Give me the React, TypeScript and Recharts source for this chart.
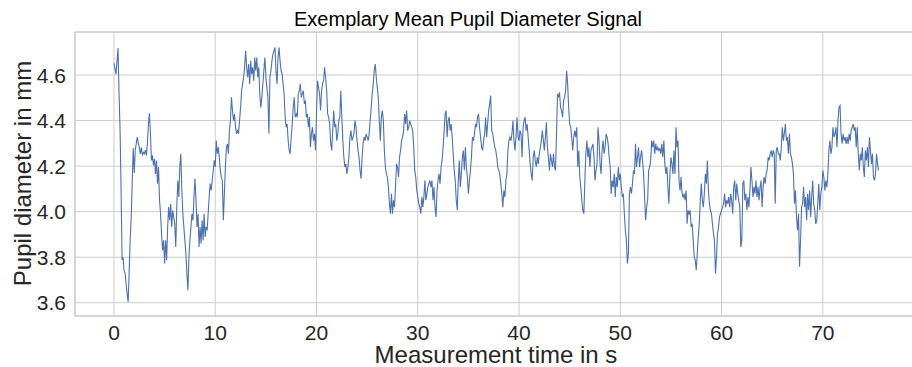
import React from 'react';
import { LineChart, Line, XAxis, YAxis, CartesianGrid, Label } from 'recharts';

// Sampling interval of the traced signal (seconds) and start time of each chunk
const SAMPLE_INTERVAL_S = 0.1;
const chunkStartTimes = [0, 13.1, 27.0, 40.4, 54.0, 66.7];

// Mean pupil diameter (mm), chunk by chunk
const diameter0 = [
  4.651, 4.63, 4.604, 4.66, 4.718, 4.52, 4.36, 4.1, 3.787, 3.8,
  3.74, 3.73, 3.68, 3.64, 3.604, 3.74, 3.88, 3.97, 4.13, 4.28,
  4.17, 4.27, 4.3, 4.327, 4.3, 4.283, 4.254, 4.283, 4.25, 4.26,
  4.254, 4.27, 4.247, 4.3, 4.385, 4.432, 4.34, 4.225, 4.247, 4.203,
  4.232, 4.166, 4.225, 4.123, 4.196, 4.05, 3.99, 3.9, 3.831, 3.874,
  3.772, 3.874, 3.787, 3.933, 4.02, 3.962, 4.035, 3.933, 4.006, 3.977,
  3.947, 3.845, 4.02, 4.137, 4.064, 4.196, 4.254, 4.093, 3.991, 3.933,
  3.874, 3.816, 3.728, 3.655, 3.801, 3.874, 3.933, 3.991, 3.962, 4.064,
  4.145, 4.05, 3.933, 3.991, 3.845, 3.933, 3.86, 3.962, 3.874, 3.991,
  3.889, 3.933, 3.918, 3.991, 4.064, 4.123, 4.093, 4.137, 4.181, 4.225,
  4.196, 4.312, 4.254, 4.283, 4.239, 4.181, 4.152, 4.137, 3.962, 4.079,
  4.196, 4.283, 4.298, 4.254, 4.356, 4.4, 4.502, 4.444, 4.4, 4.429,
  4.371, 4.342, 4.356, 4.342, 4.4, 4.458, 4.53, 4.561, 4.59, 4.634,
  4.707,
];

const diameter1 = [
  4.634, 4.59, 4.648, 4.561, 4.663, 4.604, 4.634, 4.575, 4.677, 4.619,
  4.677, 4.59, 4.634, 4.517, 4.458, 4.502, 4.561, 4.619, 4.677, 4.59,
  4.546, 4.502, 4.342, 4.59, 4.619, 4.663, 4.692, 4.707, 4.721, 4.619,
  4.561, 4.677, 4.721, 4.663, 4.619, 4.604, 4.561, 4.517, 4.415, 4.371,
  4.385, 4.312, 4.269, 4.254, 4.327, 4.385, 4.458, 4.502, 4.415, 4.429,
  4.415, 4.517, 4.531, 4.561, 4.502, 4.517, 4.531, 4.473, 4.488, 4.415,
  4.429, 4.371, 4.415, 4.283, 4.342, 4.371, 4.312, 4.342, 4.269, 4.429,
  4.575, 4.546, 4.517, 4.444, 4.531, 4.561, 4.575, 4.634, 4.59, 4.531,
  4.429, 4.415, 4.385, 4.298, 4.269, 4.356, 4.444, 4.371, 4.385, 4.312,
  4.342, 4.4, 4.415, 4.531, 4.415, 4.312, 4.239, 4.196, 4.21, 4.166,
  4.196, 4.239, 4.327, 4.356, 4.312, 4.327, 4.342, 4.4, 4.371, 4.312,
  4.269, 4.239, 4.181, 4.145, 4.239, 4.298, 4.327, 4.312, 4.342, 4.327,
  4.312, 4.342, 4.4, 4.458, 4.517, 4.561, 4.619, 4.648, 4.59, 4.546,
  4.502, 4.4, 4.312, 4.415, 4.444, 4.4, 4.269, 4.196, 4.166,
];

const diameter2 = [
  4.152, 4.108, 4.035, 3.991, 4.079, 3.991, 4.05, 4.02, 4.108, 4.21,
  4.196, 4.152, 4.239, 4.269, 4.312, 4.327, 4.356, 4.429, 4.385, 4.444,
  4.356, 4.371, 4.4, 4.385, 4.371, 4.356, 4.283, 4.181, 4.152, 4.093,
  4.064, 4.035, 4.02, 3.991, 4.064, 4.02, 4.064, 4.137, 4.05, 4.079,
  4.108, 4.123, 4.137, 4.108, 4.137, 4.05, 4.108, 4.02, 3.977, 4.093,
  4.137, 4.166, 4.123, 4.196, 4.225, 4.283, 4.356, 4.429, 4.444, 4.327,
  4.4, 4.415, 4.356, 4.385, 4.327, 4.254, 4.181, 4.137, 4.05, 4.006,
  4.137, 4.225, 4.108, 4.166, 4.239, 4.269, 4.181, 4.283, 4.196, 4.152,
  4.079, 4.137, 4.181, 4.239, 4.327, 4.312, 4.342, 4.385, 4.371, 4.415,
  4.429, 4.371, 4.327, 4.283, 4.269, 4.312, 4.342, 4.415, 4.327, 4.385,
  4.444, 4.473, 4.51, 4.356, 4.342, 4.312, 4.283, 4.269, 4.239, 4.196,
  4.181, 4.166, 4.123, 4.079, 4.02, 4.093, 4.064, 4.137, 4.166, 4.269,
  4.312, 4.327, 4.312, 4.342, 4.4, 4.312, 4.269, 4.327, 4.415, 4.327,
  4.312, 4.356, 4.342, 4.239,
];

const diameter3 = [
  4.371, 4.4, 4.415, 4.356, 4.385, 4.327, 4.269, 4.21, 4.166, 4.137,
  4.239, 4.269, 4.225, 4.196, 4.239, 4.21, 4.254, 4.283, 4.312, 4.356,
  4.312, 4.269, 4.327, 4.393, 4.283, 4.239, 4.181, 4.254, 4.225, 4.196,
  4.254, 4.196, 4.181, 4.342, 4.517, 4.502, 4.524, 4.458, 4.444, 4.415,
  4.488, 4.502, 4.531, 4.619, 4.561, 4.458, 4.385, 4.371, 4.327, 4.269,
  4.327, 4.356, 4.327, 4.371, 4.196, 4.269, 4.152, 4.108, 4.05, 4.006,
  3.991, 4.137, 4.254, 4.312, 4.239, 4.283, 4.196, 4.269, 4.283, 4.298,
  4.239, 4.137, 4.181, 4.21, 4.371, 4.312, 4.21, 4.166, 4.269, 4.312,
  4.254, 4.283, 4.342, 4.327, 4.298, 4.239, 4.196, 4.079, 4.137, 4.108,
  4.166, 4.064, 4.152, 4.108, 4.196, 4.137, 4.166, 4.108, 4.064, 4.079,
  3.991, 3.918, 3.874, 3.772, 3.816, 4.079, 4.108, 4.079, 4.123, 4.181,
  4.166, 4.298, 4.196, 4.239, 4.283, 4.196, 4.239, 4.269, 4.225, 4.166,
  4.064, 3.962, 4.02, 4.05, 4.181, 4.196, 4.225, 4.312, 4.283, 4.312,
  4.254, 4.298, 4.269, 4.283, 4.269, 4.276,
];

const diameter4 = [
  4.254, 4.298, 4.239, 4.312, 4.21, 4.166, 4.196, 4.108, 4.035, 4.166,
  4.239, 4.21, 4.166, 4.269, 4.166, 4.371, 4.283, 4.312, 4.137, 4.093,
  4.152, 4.079, 4.064, 4.079, 4.05, 4.093, 3.947, 4.006, 3.991, 4.006,
  3.933, 3.947, 3.874, 3.801, 3.787, 3.743, 3.816, 3.889, 3.947, 4.05,
  4.123, 4.05, 4.02, 4.079, 4.166, 4.123, 4.225, 4.093, 4.035, 4.006,
  3.991, 3.947, 3.904, 3.874, 3.728, 3.801, 3.904, 3.933, 3.977, 3.991,
  4.006, 4.02, 4.035, 4.079, 4.02, 4.05, 4.035, 4.064, 4.02, 4.079,
  4.05, 3.991, 4.108, 4.137, 4.05, 4.123, 4.079, 4.05, 4.02, 3.845,
  3.874, 4.123, 4.137, 4.05, 4.079, 4.006, 4.064, 4.02, 4.093, 4.196,
  4.137, 4.064, 4.108, 4.079, 4.137, 4.064, 4.108, 4.05, 4.108, 4.137,
  4.02, 4.108, 4.152, 4.123, 4.166, 4.181, 4.239, 4.225, 4.254, 4.269,
  4.239, 4.269, 4.254, 4.035, 4.269, 4.283, 4.254, 4.254, 4.225, 4.283,
  4.371, 4.312, 4.342, 4.385, 4.312, 4.327, 4.254,
];

const diameter5 = [
  4.342, 4.254, 4.239, 4.21, 4.166, 4.035, 4.093, 3.977, 3.918, 3.991,
  3.758, 3.874, 4.02, 4.035, 4.108, 4.02, 4.064, 3.962, 4.079, 4.006,
  4.093, 3.977, 4.064, 4.137, 4.035, 4.006, 3.947, 3.962, 4.035, 4.123,
  4.006, 4.079, 4.108, 4.181, 4.152, 4.093, 4.137, 4.108, 4.166, 4.269,
  4.312, 4.254, 4.283, 4.371, 4.327, 4.342, 4.371, 4.283, 4.4, 4.458,
  4.466, 4.342, 4.298, 4.342, 4.312, 4.327, 4.298, 4.327, 4.298, 4.342,
  4.312, 4.356, 4.371, 4.385, 4.356, 4.371, 4.283, 4.371, 4.254, 4.181,
  4.254, 4.225, 4.283, 4.196, 4.152, 4.269, 4.225, 4.283, 4.196, 4.327,
  4.269, 4.21, 4.254, 4.152, 4.137, 4.166, 4.254, 4.21, 4.181,
];

const xTicks = [0, 10, 20, 30, 40, 50, 60, 70];
const yTicks = [3.6, 3.8, 4.0, 4.2, 4.4, 4.6];
const xDomain: [number, number] = [-3.85, 79.3];
const yDomain: [number, number] = [3.5418, 4.789];

const titleText = 'Exemplary Mean Pupil Diameter Signal';
const xLabelText = 'Measurement time in s';
const yLabelText = 'Pupil diameter in mm';

const chunks = [diameter0, diameter1, diameter2, diameter3, diameter4, diameter5];
const data = chunks.flatMap((chunk, c) =>
  chunk.map((d, i) => ({
    t: Math.round((chunkStartTimes[c] + i * SAMPLE_INTERVAL_S) * 100) / 100,
    d,
  }))
);

const FONT = '"Liberation Sans", Arial, Helvetica, sans-serif';
const TEXT = '#262626';
const GRID = '#cccccc';

const XTick = (props: any) => {
  const { x, payload } = props;
  return (
    <text x={x} y={340} textAnchor="middle" fontFamily={FONT} fontSize={21} fill={TEXT}>
      {payload.value}
    </text>
  );
};

const YTick = (props: any) => {
  const { y, payload } = props;
  return (
    <text x={66} y={y + 7.5} textAnchor="end" fontFamily={FONT} fontSize={21} fill={TEXT}>
      {Number(payload.value).toFixed(1)}
    </text>
  );
};

export default function App() {
  return (
    <div
      style={{
        position: 'absolute',
        left: 0,
        top: 0,
        width: 912,
        height: 367,
        overflow: 'hidden',
        background: '#ffffff',
      }}
    >
      <LineChart width={917} height={367} data={data} margin={{ top: 31, right: 0, bottom: 0, left: 0 }}>
        <CartesianGrid stroke={GRID} strokeWidth={1} />
        <XAxis
          dataKey="t"
          type="number"
          domain={xDomain}
          ticks={xTicks}
          height={51}
          tickLine={false}
          axisLine={{ stroke: GRID, strokeWidth: 1.25 }}
          tick={<XTick />}
          interval={0}
        >
          <Label
            content={() => (
              <text x={496} y={363} textAnchor="middle" fontFamily={FONT} fontSize={24} fill={TEXT}>
                {xLabelText}
              </text>
            )}
          />
        </XAxis>
        <XAxis
          xAxisId="top"
          orientation="top"
          dataKey="t"
          type="number"
          domain={xDomain}
          height={1}
          tick={false}
          tickLine={false}
          axisLine={{ stroke: GRID, strokeWidth: 1.25 }}
        />
        <YAxis
          type="number"
          domain={yDomain}
          ticks={yTicks}
          width={75}
          tickLine={false}
          axisLine={{ stroke: GRID, strokeWidth: 1.25 }}
          tick={<YTick />}
          interval={0}
        >
          <Label
            content={() => (
              <g>
                <text
                  x={22}
                  y={173.5}
                  textAnchor="middle"
                  dominantBaseline="central"
                  transform="rotate(-90 22 173.5)"
                  fontFamily={FONT}
                  fontSize={24}
                  fill={TEXT}
                >
                  {yLabelText}
                </text>
                <text x={468} y={26} textAnchor="middle" fontFamily={FONT} fontSize={20} fill="#000000">
                  {titleText}
                </text>
              </g>
            )}
          />
        </YAxis>
        <Line
          type="linear"
          dataKey="d"
          stroke="#4c72b0"
          strokeWidth={1.1}
          dot={false}
          activeDot={false}
          isAnimationActive={false}
        />
      </LineChart>
    </div>
  );
}
